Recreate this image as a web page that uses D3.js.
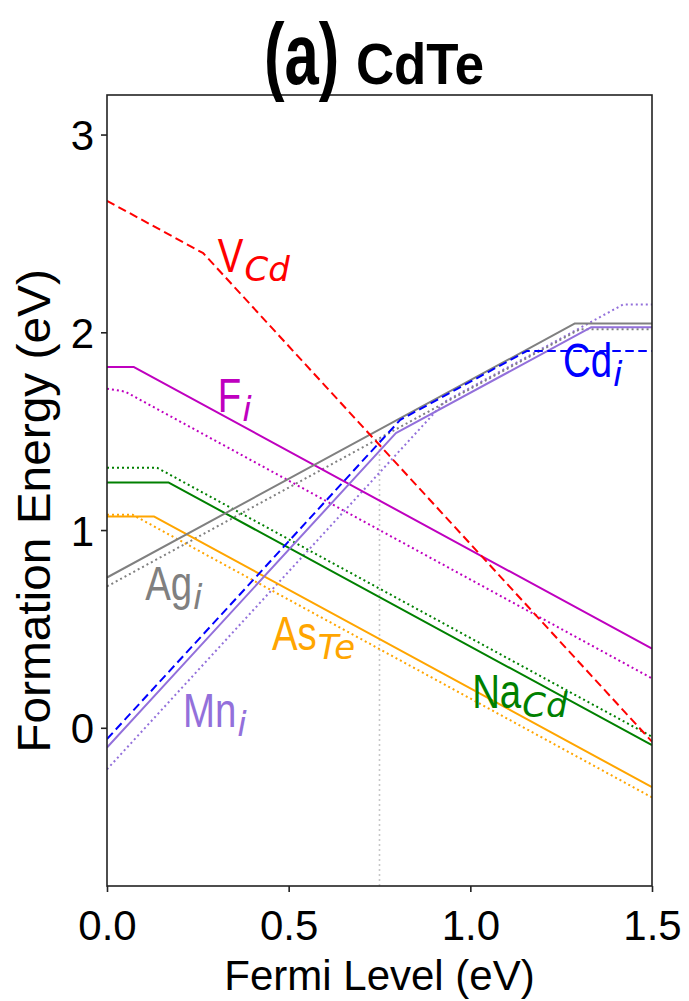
<!DOCTYPE html>
<html>
<head>
<meta charset="utf-8">
<script src="https://cdn.jsdelivr.net/npm/d3@7"></script>
<style>
  html, body { margin: 0; padding: 0; background: #fff; }
  svg { display: block; }
</style>
</head>
<body>
<svg id="chart" width="689" height="1001"></svg>
<script>
// ---------------- data ----------------
const xTicks = [0.0, 0.5, 1.0, 1.5];
const xTickLabels = ["0.0", "0.5", "1.0", "1.5"];
const yTicks = [0, 1, 2, 3];
const yTickLabels = ["0", "1", "2", "3"];

// breakpoints (Fermi level, formation energy) of each defect line
const vcdX  = [0, 0.265, 1.5];            const vcdY  = [2.665, 2.40, -0.07];
const cdiX  = [0, 0.807, 1.155, 1.5];     const cdiY  = [-0.057, 1.557, 1.905, 1.905];
const agiX  = [0, 1.288, 1.5];            const agiY  = [0.76, 2.045, 2.045];
const agiDX = [0, 1.302, 1.5];            const agiDY = [0.715, 2.016, 2.016];
const mniX  = [0, 0.795, 1.332, 1.5];     const mniY  = [-0.10, 1.49, 2.025, 2.025];
const mniDX = [0, 0.93, 1.42, 1.5];       const mniDY = [-0.21, 1.65, 2.14, 2.14];
const fiX   = [0, 0.073, 1.5];            const fiY   = [1.825, 1.825, 0.40];
const fiDX  = [0, 0.05, 1.5];             const fiDY  = [1.715, 1.70, 0.25];
const nacdX = [0, 0.17, 1.5];             const nacdY = [1.24, 1.24, -0.088];
const nacdDX= [0, 0.138, 1.5];            const nacdDY= [1.315, 1.315, -0.045];
const asteX = [0, 0.13, 1.5];             const asteY = [1.068, 1.068, -0.30];
const asteDX= [0, 0.07, 1.5];             const asteDY= [1.078, 1.078, -0.352];
const midGapX = [0.75, 0.75];             const midGapY = [-0.8, 1.47];

// labels: main text, subscript, anchor (x, y) in data units
const labelMain = ["V", "F", "Cd", "Ag", "As", "Mn", "Na"];
const labelSub  = ["Cd", "i", "i", "i", "Te", "i", "Cd"];
const labelX    = [0.305, 0.305, 1.255, 0.105, 0.454, 0.209, 1.005];
const labelY    = [2.305, 1.597, 1.774, 0.646, 0.393, 0.004, 0.10];

// ---------------- styles ----------------
const C = {
  red: "#ff0000", blue: "#0000ff", gray: "#808080", magenta: "#bf00bf",
  green: "#008000", orange: "#ffa500", purple: "#9370db", light: "#c8c8c8"
};
const DASH = "8.5,4.5", DOT = "2,3";

const lines = [
  {x: midGapX, y: midGapY, color: C.light,   dash: DOT,  w: 1.6},
  {x: asteDX,  y: asteDY,  color: C.orange,  dash: DOT,  w: 2},
  {x: nacdDX,  y: nacdDY,  color: C.green,   dash: DOT,  w: 2},
  {x: fiDX,    y: fiDY,    color: C.magenta, dash: DOT,  w: 2},
  {x: mniDX,   y: mniDY,   color: C.purple,  dash: DOT,  w: 2},
  {x: agiDX,   y: agiDY,   color: C.gray,    dash: DOT,  w: 2},
  {x: asteX,   y: asteY,   color: C.orange,  dash: null, w: 2},
  {x: nacdX,   y: nacdY,   color: C.green,   dash: null, w: 2},
  {x: fiX,     y: fiY,     color: C.magenta, dash: null, w: 2},
  {x: agiX,    y: agiY,    color: C.gray,    dash: null, w: 2},
  {x: mniX,    y: mniY,    color: C.purple,  dash: null, w: 2},
  {x: cdiX,    y: cdiY,    color: C.blue,    dash: DASH, w: 2},
  {x: vcdX,    y: vcdY,    color: C.red,     dash: DASH, w: 2}
];
const labelColors = [C.red, C.magenta, C.blue, C.gray, C.orange, C.purple, C.green];

// ---------------- layout ----------------
const svg = d3.select("#chart");
const m = {left: 107, right: 652, top: 95, bottom: 886};
const x = d3.scaleLinear().domain([0, 1.5]).range([m.left, m.right]);
const y = d3.scaleLinear().domain([-0.8, 3.2]).range([m.bottom, m.top]);

const SANS = "'Liberation Sans', Arial, Helvetica, sans-serif";
const DEJA = "'DejaVu Sans', sans-serif";

// clip
svg.append("clipPath").attr("id", "clip").append("rect")
  .attr("x", m.left).attr("y", m.top)
  .attr("width", m.right - m.left).attr("height", m.bottom - m.top);

const line = d3.line().x(d => x(d[0])).y(d => y(d[1]));
const g = svg.append("g").attr("clip-path", "url(#clip)");
lines.forEach(s => {
  g.append("path")
    .datum(s.x.map((v, i) => [v, s.y[i]]))
    .attr("d", line)
    .attr("fill", "none")
    .attr("stroke", s.color)
    .attr("stroke-width", s.w)
    .attr("stroke-dasharray", s.dash)
    .attr("stroke-linejoin", "round");
});

// frame
svg.append("rect")
  .attr("x", m.left).attr("y", m.top)
  .attr("width", m.right - m.left).attr("height", m.bottom - m.top)
  .attr("fill", "none").attr("stroke", "#222").attr("stroke-width", 1.6);

// axes
const xAxis = svg.append("g").attr("transform", `translate(0,${m.bottom})`)
  .call(d3.axisBottom(x).tickValues(xTicks).tickSize(6).tickPadding(10)
    .tickFormat((d, i) => xTickLabels[i]));
const yAxis = svg.append("g").attr("transform", `translate(${m.left},0)`)
  .call(d3.axisLeft(y).tickValues(yTicks).tickSize(6).tickPadding(7)
    .tickFormat((d, i) => yTickLabels[i]));
[xAxis, yAxis].forEach(a => {
  a.select(".domain").remove();
  a.selectAll(".tick line").attr("stroke", "#222").attr("stroke-width", 1.6);
  a.selectAll(".tick text").attr("fill", "#000")
    .style("font-family", SANS).style("font-size", "42px");
});
xAxis.selectAll(".tick text").attr("dy", null).attr("y", 0)
  .attr("transform", "translate(0,54)");
yAxis.selectAll(".tick text").attr("dy", "0.36em");

// axis titles
svg.append("text").text("Fermi Level (eV)")
  .attr("x", (m.left + m.right) / 2).attr("y", 990)
  .attr("text-anchor", "middle").attr("fill", "#000")
  .style("font-family", SANS).style("font-size", "42px");
svg.append("text").text("Formation Energy (eV)")
  .attr("transform", `translate(50,511) rotate(-90) scale(1.04,1)`)
  .attr("text-anchor", "middle").attr("fill", "#000")
  .style("font-family", SANS).style("font-size", "46px");

// title
svg.append("text").text("(a)")
  .attr("transform", "translate(264,84) scale(0.7,1)")
  .attr("fill", "#000").style("font-family", SANS)
  .style("font-weight", "bold").style("font-size", "88px");
svg.append("text").text("CdTe")
  .attr("transform", "translate(356,84) scale(0.91,1)")
  .attr("fill", "#000").style("font-family", SANS)
  .style("font-weight", "bold").style("font-size", "58px");

// defect labels
labelMain.forEach((t, i) => {
  const px = x(labelX[i]), py = y(labelY[i]);
  const sx = 0.8;
  const main = svg.append("text").text(t)
    .attr("transform", `translate(${px},${py}) scale(${sx},1)`)
    .attr("fill", labelColors[i])
    .style("font-family", SANS).style("font-size", "48px");
  const w = main.node().getComputedTextLength() * sx;
  svg.append("text").text(labelSub[i])
    .attr("x", px + w + 1).attr("y", py + 9)
    .attr("fill", labelColors[i])
    .style("font-family", DEJA).style("font-style", "italic")
    .style("font-size", "34px");
});
</script>
</body>
</html>
